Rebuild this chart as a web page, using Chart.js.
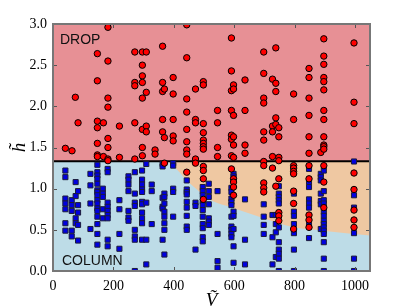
<!DOCTYPE html>
<html>
<head>
<meta charset="utf-8">
<script src="https://cdn.jsdelivr.net/npm/chart.js@4"></script>
<style>
  html, body { margin: 0; padding: 0; background: #fff; }
</style>
</head>
<body>
<canvas id="regimen" width="409" height="307"></canvas>
<script>
// DROP runs: [V, list of h]
const dropCols = [
  [41, [1.49]],
  [63, [1.46]],
  [74, [2.11]],
  [83, [1.80]],
  [147, [2.64, 2.31, 1.82, 1.74, 1.55, 1.41, 1.39]],
  [167, [1.80, 1.39]],
  [182, [2.96, 2.55, 2.10, 1.99, 1.61, 1.50, 1.36, 1.34]],
  [220, [1.76, 1.38]],
  [271, [2.66, 2.29, 2.25, 1.80, 1.36]],
  [296, [2.66, 2.50, 2.37, 2.29, 2.10, 1.72, 1.50, 1.40]],
  [309, [2.66, 2.17, 1.76, 1.69]],
  [338, [1.47, 1.42]],
  [363, [2.73, 2.29, 2.18, 1.84, 1.69]],
  [369, [2.21, 1.62, 1.31]],
  [398, [2.35, 2.15, 1.84, 1.64, 1.58]],
  [443, [2.99, 2.59, 2.09, 1.93, 1.72, 1.57, 1.47, 1.42, 1.20]],
  [472, [2.21, 1.84, 1.80, 1.36, 1.31]],
  [498, [2.30, 2.26, 1.79, 1.68, 1.59, 1.55, 1.51, 1.48, 1.27, 1.22, 1.12, 0.87]],
  [545, [1.95, 1.80, 1.50, 1.39]],
  [591, [2.83, 2.43, 2.19, 1.95, 1.65, 1.60, 1.40, 1.24]],
  [598, [2.26, 2.21, 1.89, 1.63, 1.53, 1.38, 1.12, 1.08, 1.02, 0.92]],
  [636, [2.32, 1.95, 1.53, 1.43]],
  [698, [2.66, 2.40, 2.10, 2.04, 1.69, 1.59, 1.33, 1.28, 1.07, 1.01, 0.96]],
  [727, [2.33, 1.76, 1.69, 1.39, 1.25]],
  [738, [2.71, 2.28, 2.18, 1.86, 1.78, 1.03]],
  [748, [1.74, 1.63, 1.38, 1.34, 1.12, 0.71, 0.67, 0.61]],
  [797, [2.15, 1.84, 1.28, 1.25, 1.21, 1.18, 0.97, 0.82, 0.51]],
  [848, [2.46, 2.35, 2.10, 1.89, 1.63, 1.43, 1.28, 1.12, 0.68, 0.62, 0.53]],
  [887, [1.44]],
  [897, [2.82, 2.61, 2.51, 2.35, 2.30, 2.20, 1.95, 1.84, 1.63, 1.53, 1.51, 1.48, 1.28, 1.08, 0.77]],
  [997, [2.77, 2.05, 1.79, 1.19, 0.99, 0.74, 0.62, 0.53]]
];

// COLUMN runs: [V, list of h]
const columnCols = [
  [41, [1.22, 1.14, 0.88, 0.82, 0.75, 0.58, 0.49]],
  [62, [0.86, 0.80, 0.73, 0.49, 0.42]],
  [75, [1.08, 0.91, 0.64, 0.58]],
  [83, [0.97, 0.80, 0.71, 0.56, 0.37]],
  [124, [1.18, 1.04, 0.82, 0.51]],
  [147, [1.29, 1.20, 1.16, 1.12, 1.06, 0.98, 0.96, 0.92, 0.86, 0.82, 0.76, 0.73, 0.66, 0.57, 0.45, 0.32]],
  [165, [1.00, 0.94, 0.90, 0.75, 0.64]],
  [181, [1.24, 1.20, 0.83, 0.78, 0.73, 0.68, 0.64, 0.38, 0.30]],
  [220, [0.86, 0.75, 0.45, 0.27]],
  [250, [1.15, 1.11, 1.05, 0.97, 0.73, 0.65, 0.61]],
  [271, [1.20, 0.94, 0.83, 0.79, 0.50, 0.42, 0.38, 0.00]],
  [295, [1.22, 1.11, 1.05, 0.99, 0.96, 0.84, 0.81, 0.71, 0.64, 0.58, 0.38]],
  [309, [1.30, 0.83, 0.38, 0.08]],
  [327, [1.05, 0.97, 0.57]],
  [363, [1.30, 1.27, 0.89, 0.78, 0.76, 0.38]],
  [369, [0.94, 0.90, 0.82, 0.72, 0.66, 0.58, 0.50, 0.20]],
  [398, [1.31, 1.28, 1.00, 0.96, 0.66]],
  [443, [1.10, 0.99, 0.96, 0.93, 0.84, 0.77, 0.67, 0.54, 0.50]],
  [472, [0.83, 0.79, 0.26]],
  [496, [1.02, 0.97, 0.92, 0.85, 0.80, 0.74, 0.66, 0.57, 0.52, 0.41, 0.36]],
  [516, [1.06, 0.97, 0.90, 0.81, 0.64, 0.60, 0.56]],
  [545, [0.97, 0.45, 0.12, 0.04]],
  [591, [1.01, 0.96, 0.88, 0.84, 0.80, 0.66, 0.54, 0.50, 0.45, 0.41]],
  [598, [1.18, 1.15, 0.72, 0.67, 0.51, 0.30, 0.10]],
  [636, [0.87, 0.38, 0.08]],
  [698, [0.81, 0.66, 0.56, 0.45]],
  [727, [0.68, 0.41, 0.08]],
  [738, [0.68, 0.57, 0.47, 0.17]],
  [748, [1.03, 0.94, 0.90, 0.86, 0.82, 0.53, 0.35, 0.26, 0.21, 0.15, 0.00]],
  [798, [0.94, 0.72, 0.67, 0.57, 0.46, 0.26, 0.00]],
  [848, [1.24, 1.08, 1.02, 0.87, 0.82, 0.77, 0.56, 0.40]],
  [887, [1.18, 1.14, 1.10, 0.94, 0.85, 0.81, 0.51]],
  [897, [1.22, 0.97, 0.86, 0.82, 0.72, 0.67, 0.61, 0.57, 0.53, 0.49, 0.45, 0.35, 0.15, 0.00]],
  [997, [1.33, 0.92, 0.77, 0.46, 0.15, 0.00]]
];

// drop / column threshold and the lower edge of the orange wedge
const splitH = 1.333;
const edgeV = [377, 400, 419, 443, 474, 507, 534, 584, 683, 799, 893, 1050];
const edgeH = [1.333, 1.27, 1.20, 1.10, 1.00, 0.90, 0.84, 0.78, 0.66, 0.53, 0.49, 0.43];

const xTicks = [0, 200, 400, 600, 800, 1000];
const yTicks = [0, 0.5, 1, 1.5, 2, 2.5, 3];

function toPoints(cols) {
  const pts = [];
  cols.forEach(([v, hs]) => hs.forEach(h => pts.push({x: v, y: h})));
  return pts;
}

const serif = '"Liberation Serif", "DejaVu Serif", serif';

const decor = {
  id: 'decor',
  beforeDatasetsDraw(chart) {
    const {ctx, chartArea: a} = chart;
    ctx.save();
    ctx.fillStyle = '#bddce7';
    ctx.fillRect(a.left, a.top, a.right - a.left, a.bottom - a.top);
    ctx.restore();
  },
  afterDraw(chart) {
    const {ctx, chartArea: a, scales: {x, y}} = chart;
    ctx.save();
    ctx.fillStyle = '#111';
    ctx.font = '14px "Liberation Sans"';
    ctx.textBaseline = 'alphabetic';
    ctx.fillText('DROP', a.left + 7, a.top + 20);
    ctx.fillText('COLUMN', a.left + 9, a.bottom - 6);

    ctx.strokeStyle = '#555';
    ctx.lineWidth = 1;
    ctx.beginPath();
    x.ticks.forEach(t => {
      const px = Math.round(x.getPixelForValue(t.value)) + 0.5;
      ctx.moveTo(px, a.bottom); ctx.lineTo(px, a.bottom - 4);
      ctx.moveTo(px, a.top); ctx.lineTo(px, a.top + 4);
    });
    y.ticks.forEach(t => {
      const py = Math.round(y.getPixelForValue(t.value)) + 0.5;
      ctx.moveTo(a.left, py); ctx.lineTo(a.left + 4, py);
      ctx.moveTo(a.right, py); ctx.lineTo(a.right - 4, py);
    });
    ctx.stroke();
    ctx.strokeStyle = '#777';
    ctx.lineWidth = 2;
    ctx.strokeRect(a.left, a.top, a.right - a.left, a.bottom - a.top);
    ctx.restore();
  }
};

new Chart(document.getElementById('regimen').getContext('2d'), {
  type: 'line',
  data: {
    datasets: [
      {
        label: 'DROP',
        data: toPoints(dropCols),
        showLine: false,
        pointStyle: 'circle',
        pointRadius: 3.2,
        pointBackgroundColor: '#ff0000',
        pointBorderColor: '#000',
        pointBorderWidth: 1,
        order: 1
      },
      {
        label: 'COLUMN',
        data: toPoints(columnCols),
        showLine: false,
        pointStyle: 'rect',
        pointRadius: 3.6,
        pointBackgroundColor: '#0000e0',
        pointBorderColor: '#1c1c3a',
        pointBorderWidth: 1,
        order: 2
      },
      {
        label: 'split',
        data: [{x: 0, y: splitH}, {x: 1050, y: splitH}],
        borderColor: '#000',
        borderWidth: 2,
        pointRadius: 0,
        fill: 'end',
        backgroundColor: '#e79095',
        order: 3
      },
      {
        label: 'edge',
        data: edgeV.map((v, i) => ({x: v, y: edgeH[i]})),
        borderWidth: 0,
        borderColor: 'rgba(0,0,0,0)',
        pointRadius: 0,
        fill: 'end',
        backgroundColor: '#efc8a2',
        cubicInterpolationMode: 'monotone',
        order: 4
      }
    ]
  },
  options: {
    responsive: false,
    animation: false,
    layout: { padding: { top: 24, right: 39, left: 0, bottom: 0 } },
    plugins: {
      legend: { display: false },
      tooltip: { enabled: false }
    },
    scales: {
      x: {
        type: 'linear',
        min: 0,
        max: 1050,
        grid: { display: false, drawTicks: false },
        border: { display: false },
        afterBuildTicks: s => { s.ticks = xTicks.map(v => ({value: v})); },
        afterFit: s => { s.height = 36; },
        ticks: {
          padding: 7,
          color: '#000',
          maxRotation: 0,
          font: { family: serif, size: 14 },
          callback: v => String(v)
        },
        title: {
          display: true,
          text: 'Ṽ',
          color: '#000',
          font: { family: serif, size: 19, style: 'italic', lineHeight: 1 },
          padding: { top: 0, bottom: -3 }
        }
      },
      y: {
        min: 0,
        max: 3,
        grid: { display: false, drawTicks: false },
        border: { display: false },
        afterBuildTicks: s => { s.ticks = yTicks.map(v => ({value: v})); },
        afterFit: s => { s.width = 53; },
        ticks: {
          padding: 6,
          color: '#000',
          font: { family: serif, size: 14 },
          callback: v => Number(v).toFixed(1)
        },
        title: {
          display: true,
          text: 'h̃',
          color: '#000',
          font: { family: serif, size: 19, style: 'italic', lineHeight: 1.2 },
          padding: { top: 9, bottom: 0 }
        }
      }
    }
  },
  plugins: [decor]
});
</script>
</body>
</html>
